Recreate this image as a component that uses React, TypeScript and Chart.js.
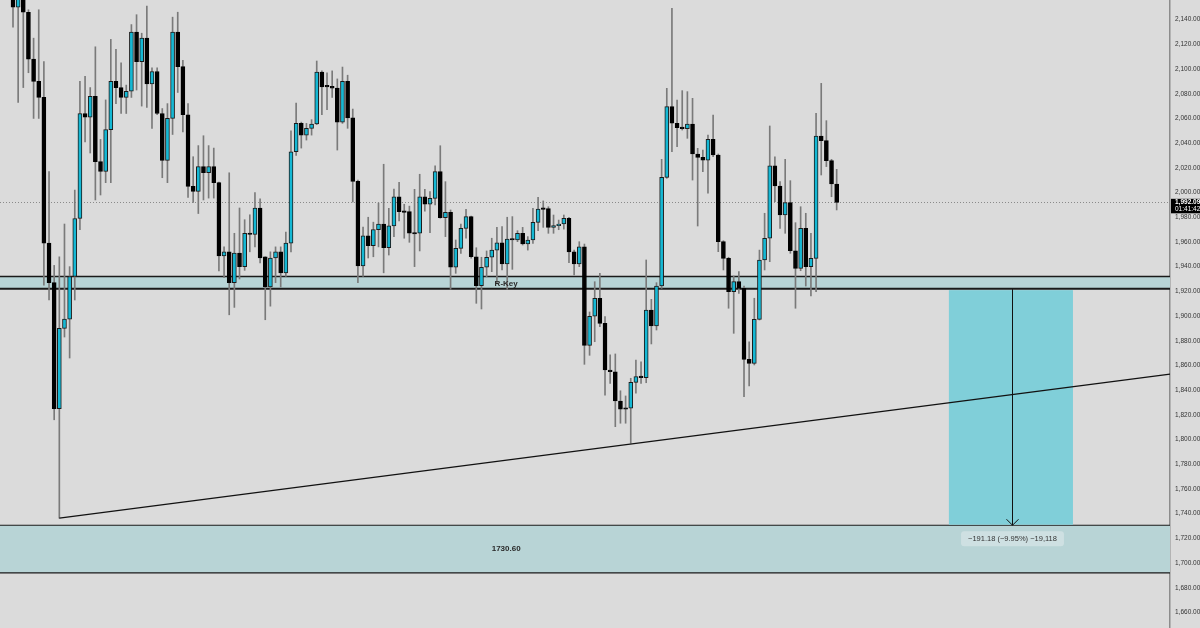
import React, { useEffect, useRef } from 'react';
import { Chart, registerables } from 'chart.js';

Chart.register(...registerables);

// ---------- data ----------
const OPEN = [
  2160, 2150, 2158, 2146, 2108, 2090, 2077, 1959, 1927, 1825,
  1890, 1897.5, 1932, 1979, 2064, 2061, 2078, 2025, 2017, 2051,
  2090, 2085, 2077, 2082, 2130, 2106, 2125, 2088, 2098, 2064,
  2026, 2060, 2130, 2102, 2063, 2005, 2001,
  2021, 2016, 2021, 2008, 1948.6, 1952, 1927, 1951, 1940, 1967,
  1966, 1987.5, 1948, 1923.5, 1947, 1952, 1935, 1959, 2033, 2056,
  2046.5, 2052, 2055.5, 2097.6, 2086, 2086, 2084.6, 2057, 2090, 2060.4,
  2009, 1940.5, 1965, 1957, 1970,
  1974.5, 1955.3, 1973, 1996.6, 1985, 1984.5, 1967, 1967, 1996.6, 1990.5,
  1995.3, 2016.9, 1979.6, 1984, 1939.5, 1954.8, 1971, 1980.5, 1948, 1924.5,
  1939.5, 1947.6, 1953.4, 1959.3, 1942.1, 1962.4, 1961.6, 1967, 1958.3, 1961.6,
  1975.9, 1986.9, 1987, 1971.8, 1973.2, 1974.5, 1979.1, 1952, 1942.1, 1956.1,
  1876.3, 1899.8, 1914.4, 1894.1, 1856.3, 1854.9, 1831.2, 1825.3, 1825.3, 1846.3,
  1851, 1850.1, 1904.9, 1891.9,
  1924.3, 2012.3, 2069.5, 2056.1, 2052.5, 2051.7, 2055.5, 2031.2, 2028.5, 2026.3,
  2043.1, 2030.4, 1960.2, 1946.7, 1919.7, 1927.8, 1922.4, 1864.9, 1861.7, 1897.3,
  1945.4, 1963, 2021.7, 2005.3, 1981.8, 1991.8, 1952.9, 1938.6, 1971, 1940,
  1946.7, 2045.8, 2042, 2025.8, 2006.9,
];
const HIGH = [
  2165, 2162, 2162, 2148, 2125, 2148, 2106, 2017, 1941, 1948,
  1974.5, 1940, 2002, 2090, 2094, 2085, 2118, 2043, 2075, 2124,
  2116, 2105, 2087, 2136, 2144, 2129, 2151, 2101, 2101, 2068,
  2072, 2142, 2146, 2107, 2072, 2029, 2038,
  2046, 2038, 2036, 2008.5, 1956, 2016, 1967, 1987.5, 1978, 1982,
  2000, 1995, 1948, 1952, 1956, 1956, 1968, 2050, 2072.5, 2057,
  2056, 2059, 2106.5, 2098.5, 2097, 2098.5, 2092, 2101.6, 2095, 2067.6,
  2010, 1972, 1980, 1976, 1991.5,
  2022.9, 1987.2, 2002.8, 2008.3, 1990.5, 1989, 2002.6, 2014.8, 2002.6, 2000.7,
  2021.7, 2037.9, 2008.8, 1985.9, 1961.6, 1974.5, 1986.4, 1981, 1955.3, 1947.6,
  1952.7, 1963, 1971.8, 1972.4, 1980, 1980.5, 1969.1, 1971.8, 1964.3, 1987.2,
  1996.1, 1993.2, 1988.5, 1981.8, 1977.7, 1981.8, 1980, 1953.4, 1960.2, 1958.3,
  1903.3, 1927.8, 1934.6, 1899.5, 1868.5, 1869.3, 1839.5, 1835.3, 1849.6, 1864.4,
  1863, 1945.4, 1913.5, 1927,
  2026.9, 2084.4, 2149.2, 2074.9, 2082.5, 2081.7, 2076.3, 2035.8, 2034.4, 2046.6,
  2062.8, 2031.2, 1961, 1947.6, 1932.4, 1935.9, 1924.3, 1879.2, 1914.4, 1953.4,
  1983.2, 2053.9, 2029, 2008.8, 2026.9, 2009.6, 1975.6, 1988.5, 1983.2, 1967,
  2064.2, 2088.4, 2058.2, 2026.9, 2018.8,
];
const LOW = [
  2134, 2073, 2085, 2097, 2060, 2060, 1925, 1913, 1816, 1736.4,
  1883, 1866, 1913, 1970, 2041, 2032, 1994, 1998, 2008, 2008,
  2072, 2064, 2064, 2077, 2083, 2070, 2069, 2052, 2063, 2012,
  2008, 2047, 2081, 2049, 1996, 1992, 1983,
  1994, 1995.5, 1995.5, 1936.5, 1931, 1901, 1907, 1930, 1937, 1952,
  1956, 1943, 1897, 1908, 1927, 1923.5, 1932, 1952, 2030, 2036,
  2042.5, 2046.5, 2055, 2063, 2067, 2077, 2034.4, 2056, 2052, 1992.3,
  1927, 1932, 1947, 1948, 1956,
  1935, 1949.4, 1964.3, 1977, 1963, 1959.7, 1940, 1952.7, 1985, 1967.5,
  1990, 1979.2, 1964.3, 1921.6, 1934.6, 1950.8, 1963, 1946.8, 1910.3, 1905.7,
  1931.8, 1935.9, 1926.5, 1937.3, 1921.6, 1937.8, 1960.2, 1957.5, 1953.4, 1958.9,
  1969.1, 1971.8, 1967, 1967, 1969.9, 1970.4, 1943.2, 1933.2, 1940, 1860.9,
  1868.2, 1879.2, 1891.4, 1836, 1845.5, 1810.4, 1813.2, 1813.2, 1797, 1837.5,
  1845.5, 1846, 1877.4, 1888.7,
  1922.4, 2011.5, 2033.1, 2037.1, 2050.6, 2043.9, 2010.1, 1972.9, 2016.9, 1999.4,
  2029, 1952.1, 1937.3, 1906.3, 1886, 1918.4, 1834.7, 1843.4, 1860.4, 1896.8,
  1937.3, 1944, 1992.6, 1971, 1967, 1950.8, 1906.3, 1936.7, 1924.3, 1916.2,
  1919.7, 2014.2, 2021, 1996.6, 1985.9,
];
const CLOSE = [
  2150, 2158, 2146, 2108, 2090, 2077, 1959, 1927, 1825, 1890,
  1897.5, 1932, 1979, 2064, 2061, 2078, 2025, 2017, 2051, 2090,
  2085, 2077, 2082, 2130, 2106, 2125, 2088, 2098, 2064, 2026,
  2060, 2130, 2102, 2063, 2005, 2001, 2021,
  2016, 2021, 2008, 1948.6, 1952, 1927, 1951, 1940, 1967, 1966,
  1987.5, 1947, 1923.5, 1947, 1952, 1935, 1959, 2033, 2056, 2046.5,
  2052, 2055.5, 2097.6, 2085.5, 2085.5, 2084.6, 2057, 2090, 2060.4, 2009,
  1940.5, 1965, 1957, 1970, 1974.5,
  1955.3, 1973, 1996.6, 1984.5, 1984, 1967, 1966.4, 1996.6, 1990.5, 1995.3,
  2016.9, 1979.6, 1984, 1939.5, 1954.8, 1971, 1980.5, 1948, 1924.5, 1939.5,
  1947.6, 1953.4, 1959.3, 1942.1, 1962.4, 1961.6, 1967, 1958.3, 1961.6, 1975.9,
  1986.7, 1986.4, 1971.8, 1973.2, 1974.5, 1979.1, 1952, 1942.1, 1956.1, 1876.3,
  1899.8, 1914.4, 1894.1, 1856.3, 1854.9, 1831.2, 1824.5, 1824.5, 1846.3, 1851,
  1850.1, 1904.9, 1891.9, 1924.3,
  2012.3, 2069.5, 2056.1, 2052.5, 2051.7, 2055.5, 2031.2, 2028.5, 2026.3, 2043.1,
  2030.4, 1960.2, 1946.7, 1919.7, 1927.8, 1922.4, 1864.9, 1861.7, 1897.3, 1945.4,
  1963, 2021.7, 2005.3, 1981.8, 1991.8, 1952.9, 1938.6, 1971, 1940, 1946.7,
  2045.8, 2042, 2025.8, 2006.9, 1992.09,
];

// axis ranges / ticks
const Y_MIN = 1647.4;
const Y_MAX = 2155.9;
const TICK_STEP = 20;
const X_MIN = -2.525;
const X_MAX = 224.75;

// annotations
const LAST_PRICE = 1992.09;
const COUNTDOWN = '01:41:42';
const R_KEY_ZONE = [1921.78, 1932];
const R_KEY_LABEL = 'R-Key';
const TARGET_ZONE = [1692, 1730.6];
const TARGET_LABEL = '1730.60';
const ZONE_LABEL_X = 95.8;
const TREND_START = { x: 9, y: 1736.4 };
const TREND_END = { x: 224.75, y: 1853 };
const MEASURE_X = [181.8, 205.9];
const MEASURE_ARROW_X = 194.1;
const MEASURE_FROM = 1921.78;
const MEASURE_TO = 1730.6;
const MEASURE_TEXT = '\u2212191.18 (\u22129.95%) \u221219,118';

// styles
const BG = '#dbdbdb';
const CYAN = '#15b8d4';
const ZONE_FILL = '#b8d4d6';
const MEASURE_FILL = '#80cfd9';
const FONT = '"Liberation Sans", Arial, sans-serif';

const fmt = (v: number) =>
  Number(v).toLocaleString('en-US', { minimumFractionDigits: 2, maximumFractionDigits: 2 });

const overlay = {
  id: 'overlay',
  beforeDraw(chart: any) {
    const { ctx, width, height } = chart;
    ctx.save();
    ctx.fillStyle = BG;
    ctx.fillRect(0, 0, width, height);
    ctx.restore();
  },
  beforeDatasetsDraw(chart: any) {
    const { ctx, chartArea: a, scales } = chart;
    const x = scales.x;
    const y = scales.y;
    ctx.save();
    // last price dotted line
    const py = Math.round(y.getPixelForValue(LAST_PRICE)) + 0.5;
    ctx.strokeStyle = '#8a8a8a';
    ctx.lineWidth = 1;
    ctx.setLineDash([1, 2]);
    ctx.beginPath();
    ctx.moveTo(a.left, py);
    ctx.lineTo(a.right, py);
    ctx.stroke();
    ctx.setLineDash([]);

    const band = (lo: number, hi: number, wTop: number, wBot: number) => {
      const yt = y.getPixelForValue(hi);
      const yb = y.getPixelForValue(lo);
      ctx.fillStyle = ZONE_FILL;
      ctx.fillRect(a.left, yt, a.right - a.left, yb - yt);
      ctx.strokeStyle = '#1a1a1a';
      ctx.lineWidth = wTop;
      ctx.beginPath();
      ctx.moveTo(a.left, yt);
      ctx.lineTo(a.right, yt);
      ctx.stroke();
      ctx.lineWidth = wBot;
      ctx.beginPath();
      ctx.moveTo(a.left, yb - wBot / 2 + 0.5);
      ctx.lineTo(a.right, yb - wBot / 2 + 0.5);
      ctx.stroke();
    };
    band(R_KEY_ZONE[0], R_KEY_ZONE[1], 1.5, 2);
    band(TARGET_ZONE[0], TARGET_ZONE[1], 1.2, 1.2);

    // measure rectangle
    const x0 = x.getPixelForValue(MEASURE_X[0]);
    const x1 = x.getPixelForValue(MEASURE_X[1]);
    const y0 = y.getPixelForValue(MEASURE_FROM) + 1;
    const y1 = y.getPixelForValue(MEASURE_TO) - 0.5;
    ctx.fillStyle = MEASURE_FILL;
    ctx.fillRect(x0, y0, x1 - x0, y1 - y0);
    ctx.restore();
  },
  afterDatasetsDraw(chart: any) {
    const { ctx, scales } = chart;
    const x = scales.x;
    const y = scales.y;
    ctx.save();
    // trend line
    ctx.strokeStyle = '#111';
    ctx.lineWidth = 1.3;
    ctx.beginPath();
    ctx.moveTo(x.getPixelForValue(TREND_START.x), y.getPixelForValue(TREND_START.y));
    ctx.lineTo(x.getPixelForValue(TREND_END.x), y.getPixelForValue(TREND_END.y));
    ctx.stroke();

    // arrow
    const ax = Math.round(x.getPixelForValue(MEASURE_ARROW_X)) + 0.5;
    const ay0 = y.getPixelForValue(MEASURE_FROM);
    const ay1 = y.getPixelForValue(MEASURE_TO);
    ctx.lineWidth = 1;
    ctx.beginPath();
    ctx.moveTo(ax, ay0);
    ctx.lineTo(ax, ay1);
    ctx.moveTo(ax - 6, ay1 - 6);
    ctx.lineTo(ax, ay1);
    ctx.lineTo(ax + 6, ay1 - 6);
    ctx.stroke();

    // measure label
    ctx.font = `7.5px ${FONT}`;
    const tw = ctx.measureText(MEASURE_TEXT).width;
    const bw = tw + 14;
    const bh = 15;
    const bx = ax - bw / 2;
    const by = ay1 + 6;
    ctx.fillStyle = 'rgba(214,228,229,0.75)';
    ctx.beginPath();
    (ctx as any).roundRect(bx, by, bw, bh, 3);
    ctx.fill();
    ctx.fillStyle = '#333';
    ctx.textAlign = 'center';
    ctx.textBaseline = 'middle';
    ctx.fillText(MEASURE_TEXT, ax, by + bh / 2 + 0.5);

    // zone labels
    ctx.font = `bold 8px ${FONT}`;
    ctx.fillStyle = '#2a2a2a';
    const lx = x.getPixelForValue(ZONE_LABEL_X);
    ctx.fillText(R_KEY_LABEL, lx, (y.getPixelForValue(R_KEY_ZONE[0]) + y.getPixelForValue(R_KEY_ZONE[1])) / 2 + 0.5);
    ctx.fillText(TARGET_LABEL, lx, (y.getPixelForValue(TARGET_ZONE[0]) + y.getPixelForValue(TARGET_ZONE[1])) / 2);
    ctx.restore();
  },
  afterDraw(chart: any) {
    const { ctx, chartArea: a, scales, width } = chart;
    const y = scales.y;
    const py = y.getPixelForValue(LAST_PRICE);
    ctx.save();
    ctx.fillStyle = '#000';
    ctx.fillRect(a.right + 1, py - 3.5, width - a.right - 1, 14.5);
    ctx.fillStyle = '#fff';
    ctx.font = `bold 6.5px ${FONT}`;
    ctx.textAlign = 'left';
    ctx.textBaseline = 'middle';
    ctx.fillText(fmt(LAST_PRICE), a.right + 5, py + 0.3);
    ctx.font = `6.5px ${FONT}`;
    ctx.fillText(COUNTDOWN, a.right + 5, py + 6.8);
    ctx.restore();
  },
};

export default function App() {
  const ref = useRef<HTMLCanvasElement>(null);
  useEffect(() => {
    const canvas = ref.current;
    if (!canvas) return;
    const idx = OPEN.map((_, i) => i);
    const bull = idx.map((i) => CLOSE[i] >= OPEN[i]);
    const chart = new Chart(canvas, {
      type: 'bar',
      data: {
        datasets: [
          {
            label: 'body',
            data: idx.map((i) => ({ x: i, y: [OPEN[i], CLOSE[i]] })) as any,
            backgroundColor: bull.map((b) => (b ? CYAN : '#000')),
            borderColor: bull.map((b) => (b ? '#1b1b1b' : '#000')),
            borderWidth: 1,
            borderSkipped: false,
            barThickness: 4,
            minBarLength: 1.5,
            grouped: false,
            order: 1,
          } as any,
          {
            label: 'wick',
            data: idx.map((i) => ({ x: i, y: [LOW[i], HIGH[i]] })) as any,
            backgroundColor: '#7a7a7a',
            borderWidth: 0,
            barThickness: 1,
            grouped: false,
            order: 2,
          } as any,
        ],
      },
      options: {
        responsive: false,
        animation: false,
        devicePixelRatio: 1,
        layout: { padding: 0 },
        plugins: { legend: { display: false }, tooltip: { enabled: false } },
        scales: {
          x: { type: 'linear', min: X_MIN, max: X_MAX, display: false, offset: false },
          y: {
            type: 'linear',
            position: 'right',
            min: Y_MIN,
            max: Y_MAX,
            grid: { display: false, drawTicks: false },
            border: { display: true, color: '#8c8c8c', width: 1.5 },
            ticks: {
              stepSize: TICK_STEP,
              padding: 5,
              color: '#333',
              font: { family: FONT, size: 6.5 },
              callback: (v: any) => fmt(v),
            },
            afterBuildTicks: (s: any) => {
              s.ticks = s.ticks.filter(
                (t: any) => Math.abs(t.value / TICK_STEP - Math.round(t.value / TICK_STEP)) < 1e-6
              );
            },
            afterFit: (s: any) => {
              s.width = 30;
              s.paddingTop = 0;
              s.paddingBottom = 0;
            },
          } as any,
        },
      } as any,
      plugins: [overlay as any],
    });
    return () => chart.destroy();
  }, []);
  return (
    <div style={{ position: 'absolute', left: 0, top: 0, width: 1200, height: 628, background: BG }}>
      <canvas ref={ref} width={1200} height={628} style={{ display: 'block', width: 1200, height: 628 }} />
    </div>
  );
}
